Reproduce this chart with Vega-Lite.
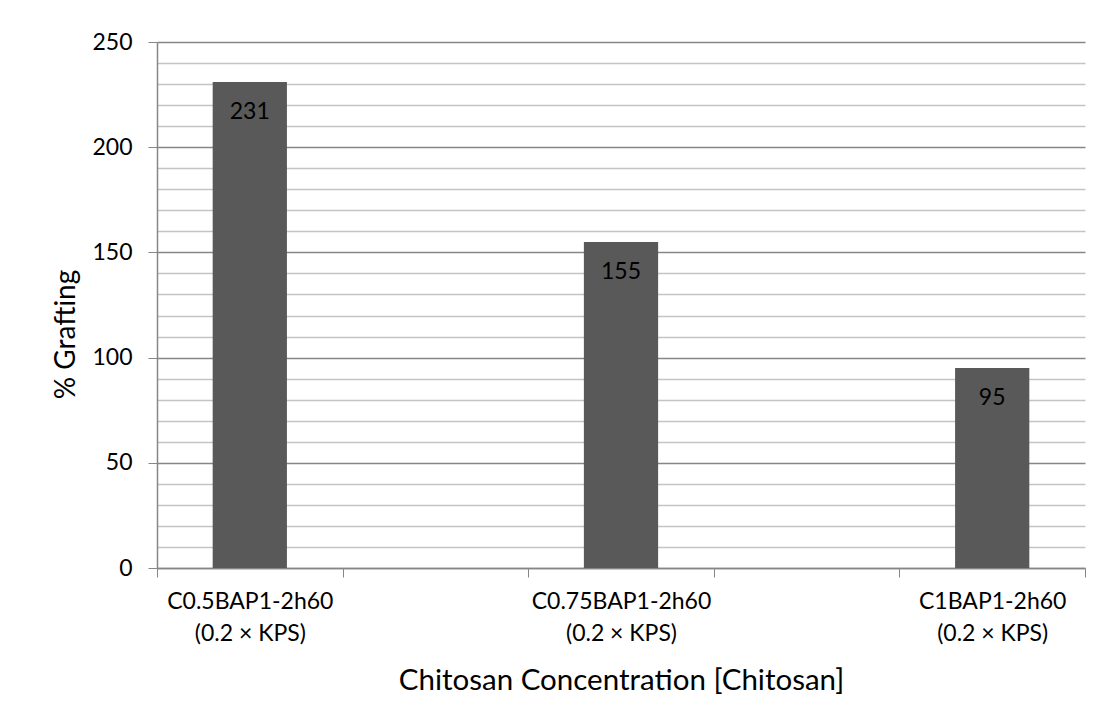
{
  "$schema": "https://vega.github.io/schema/vega-lite/v6.json",
  "autosize": {"type": "none"},
  "padding": {"left": 157, "top": 42, "right": 18, "bottom": 157},
  "width": 928,
  "height": 526,
  "background": "white",
  "config": {
    "view": {"stroke": null},
    "font": "Lato",
    "text": {"font": "Lato"}
  },
  "data": {
    "values": [
      {"sample": "C0.5BAP1-2h60 (0.2 × KPS)", "grafting": 231},
      {"sample": "C0.75BAP1-2h60 (0.2 × KPS)", "grafting": 155},
      {"sample": "C1BAP1-2h60 (0.2 × KPS)", "grafting": 95}
    ]
  },
  "encoding": {
    "x": {
      "field": "sample",
      "type": "nominal",
      "sort": null,
      "scale": {
        "domain": ["C0.5BAP1-2h60 (0.2 × KPS)", "gap1", "C0.75BAP1-2h60 (0.2 × KPS)", "gap2", "C1BAP1-2h60 (0.2 × KPS)"],
        "paddingInner": 0,
        "paddingOuter": 0
      },
      "axis": {
        "title": "Chitosan Concentration [Chitosan]",
        "titleFont": "Lato",
        "titleFontSize": 29.5,
        "titleFontWeight": "normal",
        "titleColor": "#000000",
        "titleBaseline": "alphabetic",
        "titleY": 121,
        "labelAngle": 0,
        "labelFont": "Lato",
        "labelFontSize": 23,
        "labelColor": "#000000",
        "labelLineHeight": 32,
        "labelBaseline": "top",
        "labelPadding": 13,
        "labelExpr": "isString(datum.value) && indexof(datum.value, 'gap') !== 0 && indexof(datum.value, ' (') > 0 ? [substring(datum.value, 0, indexof(datum.value, ' (')), substring(datum.value, indexof(datum.value, ' (') + 1)] : ''",
        "tickBand": "extent",
        "tickSize": 9,
        "tickColor": "#868686",
        "domainColor": "#868686",
        "domainWidth": 1.5,
        "grid": false
      }
    },
    "y": {
      "field": "grafting",
      "type": "quantitative",
      "scale": {"domain": [0, 250], "nice": false},
      "axis": {
        "title": "% Grafting",
        "titleFont": "Lato",
        "titleFontSize": 28,
        "titleFontWeight": "normal",
        "titleColor": "#000000",
        "titleBaseline": "alphabetic",
        "titleX": -83,
        "titleY": 292,
        "values": [0, 10, 20, 30, 40, 50, 60, 70, 80, 90, 100, 110, 120, 130, 140, 150, 160, 170, 180, 190, 200, 210, 220, 230, 240, 250],
        "labelExpr": "datum.value % 50 === 0 ? datum.label : ''",
        "labelFont": "Lato",
        "labelFontSize": 23,
        "labelColor": "#000000",
        "labelPadding": 16,
        "tickSize": 9,
        "tickColor": "#868686",
        "tickOpacity": {"condition": {"test": "datum.value % 50 === 0", "value": 1}, "value": 0},
        "domainColor": "#868686",
        "domainWidth": 1.5,
        "grid": true,
        "gridColor": {"condition": {"test": "datum.value % 50 === 0", "value": "#868686"}, "value": "#c4c4c4"},
        "gridWidth": 1.5
      }
    }
  },
  "layer": [
    {
      "mark": {"type": "bar", "color": "#595959", "width": {"band": 0.4}}
    },
    {
      "mark": {"type": "text", "baseline": "middle", "dy": 30, "fontSize": 23, "color": "#000000", "font": "Lato"},
      "encoding": {
        "text": {"field": "grafting", "type": "quantitative"}
      }
    }
  ]
}
